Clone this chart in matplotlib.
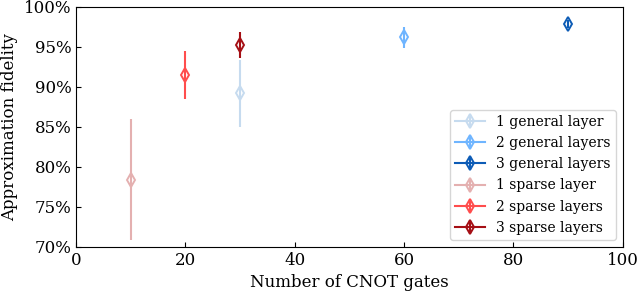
import matplotlib
matplotlib.use("Agg")
import matplotlib.pyplot as plt
from matplotlib.ticker import FuncFormatter

plt.rcParams['font.family'] = 'DejaVu Serif'

# data: (cnot gates, fidelity %, error %)
labels = ['1 general layer', '2 general layers', '3 general layers',
          '1 sparse layer', '2 sparse layers', '3 sparse layers']
cnots = [30, 60, 90, 10, 20, 30]
fidelity = [89.2, 96.2, 97.9, 78.4, 91.5, 95.2]
errors = [4.2, 1.3, 0.5, 7.6, 3.0, 1.6]
colors = ['#c6dbef', '#6fb5ff', '#0d5cb6', '#e4b0b0', '#ff4d4d', '#a50f15']

fig, ax = plt.subplots(figsize=(6.4, 2.92), dpi=100)

for i in range(len(labels)):
    ax.errorbar(cnots[i], fidelity[i], yerr=errors[i], color=colors[i],
                marker='d', markersize=7, mfc='none', mew=1.4,
                elinewidth=1.5, capsize=0, label=labels[i])

ax.set_xlim(0, 100)
ax.set_ylim(70, 100)
ax.yaxis.set_major_formatter(FuncFormatter(lambda v, p: '%d%%' % v))
ax.tick_params(direction='in', labelsize=12)
ax.set_xlabel('Number of CNOT gates', fontsize=12)
ax.set_ylabel('Approximation fidelity', fontsize=12)
ax.legend(loc='lower right', fontsize=10, handlelength=2.15,
          handletextpad=0.85, borderpad=0.35, labelspacing=0.52)

fig.subplots_adjust(left=0.119, right=0.973, top=0.977, bottom=0.155)
fig.savefig('out.png')
